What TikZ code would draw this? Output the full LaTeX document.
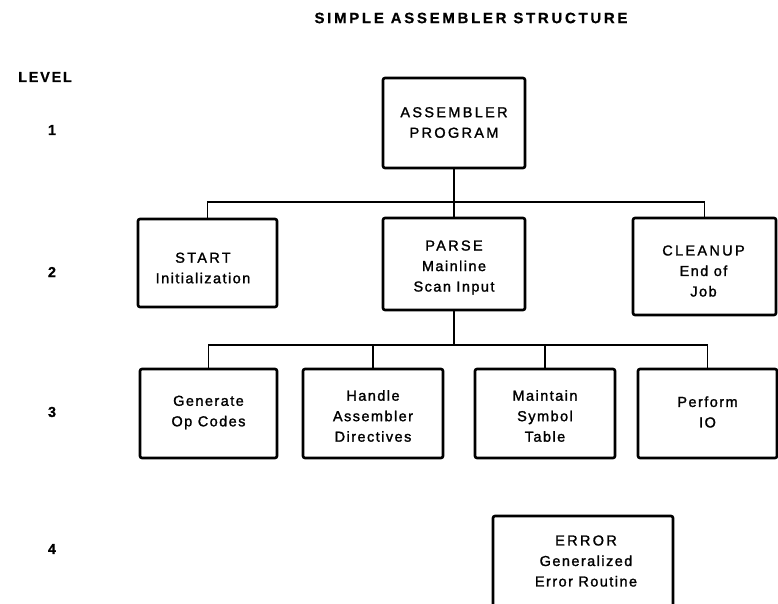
\documentclass[tikz,border=0pt]{standalone}
\usepackage{fontspec}
\setmainfont{Liberation Sans}
\newfontfamily\lowfont{Liberation Sans}[LetterSpace=10,FakeBold=1.5]
\newfontfamily\capfont{Liberation Sans}[LetterSpace=16,FakeBold=1.5]
\newfontfamily\titlefont{Liberation Sans Bold}[LetterSpace=18,FakeBold=0.5]
\newfontfamily\levelfont{Liberation Sans Bold}[LetterSpace=12,FakeBold=0.5]
\begin{document}
\begin{tikzpicture}[x=1pt,y=-1pt,
  box/.style={draw,line width=2.6pt,rounded corners=2pt,inner sep=0pt},
  boxtext/.style={inner sep=0pt,align=center,font=\lowfont\fontsize{14.5}{20.5}\selectfont},
  head/.style={inner sep=0pt,font=\titlefont\fontsize{15}{18}\selectfont},
  lvl/.style={inner sep=0pt,font=\levelfont\fontsize{14.5}{18}\selectfont},
  conn/.style={line width=1.8pt}]
\useasboundingbox (0,0) rectangle (778,604);
\clip (0,0) rectangle (778,604);
\node[head] (title) at (471,18) {SIMPLE ASSEMBLER STRUCTURE};
\node[lvl,anchor=west] (level) at (18,77) {LEVEL};
\node[lvl] (l1) at (52,130) {1};
\node[lvl] (l2) at (52,272) {2};
\node[lvl] (l3) at (52,412) {3};
\node[lvl] (l4) at (52,549) {4};
% boxes
\node[box,minimum width=142,minimum height=90] (prog) at (454,123) {};
\node[box,minimum width=139,minimum height=88] (start) at (207.5,263) {};
\node[box,minimum width=142,minimum height=92] (parse) at (454,264) {};
\node[box,minimum width=143,minimum height=97] (cleanup) at (704.5,266.5) {};
\node[box,minimum width=137,minimum height=89] (gen) at (208.5,413.5) {};
\node[box,minimum width=140,minimum height=89] (handle) at (373,413.5) {};
\node[box,minimum width=140,minimum height=89] (maintain) at (545,413.5) {};
\node[box,minimum width=139,minimum height=89] (perform) at (707.5,413.5) {};
\node[box,minimum width=180,minimum height=90] (error) at (583,561) {};
% texts
\node[boxtext] (progt) at (454,122.5) {\capfont ASSEMBLER\\\capfont PROGRAM};
\node[boxtext] (startt) at (203,268) {\capfont START\\Initialization};
\node[boxtext] (parset) at (454,267.5) {\capfont PARSE\\Mainline\\Scan Input};
\node[boxtext] (cleanupt) at (703.5,271) {\capfont CLEANUP\\End of\\Job};
\node[boxtext] (gent) at (208.5,412.5) {Generate\\Op Codes};
\node[boxtext] (handlet) at (373,416) {Handle\\Assembler\\Directives};
\node[boxtext] (maintaint) at (545,416) {Maintain\\Symbol\\Table};
\node[boxtext] (performt) at (707.5,412) {Perform\\IO};
\node[boxtext] (errort) at (586,561) {\capfont ERROR\\Generalized\\Error Routine};
% connectors
\coordinate (bus1) at (454,202);
\coordinate (bus2) at (454,345);
\draw[conn] (prog.south) -- (bus1);
\draw[conn] (bus1) -| (start.north);
\draw[conn] (bus1) -- (parse.north);
\draw[conn] (bus1) -| (cleanup.north);
\draw[conn] (parse.south) -- (bus2);
\draw[conn] (bus2) -| (gen.north);
\draw[conn] (bus2) -| (handle.north);
\draw[conn] (bus2) -| (maintain.north);
\draw[conn] (bus2) -| (perform.north);
\end{tikzpicture}
\end{document}
